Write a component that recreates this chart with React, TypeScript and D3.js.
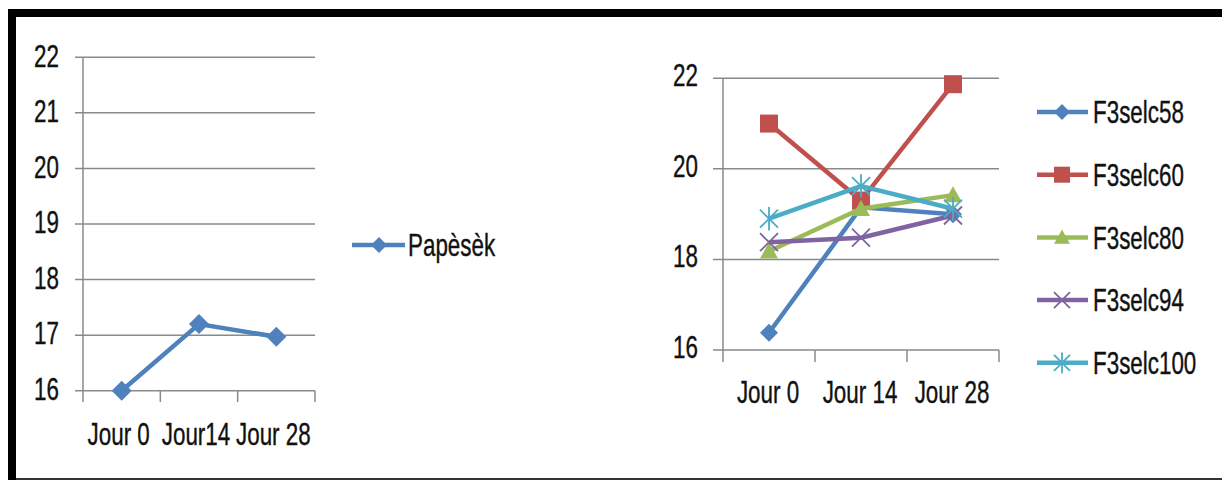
import React from "react";
import * as d3 from "d3";

const categoriesLeft = ["Jour 0", "Jour14", "Jour 28"];
const categoriesRight = ["Jour 0", "Jour 14", "Jour 28"];
const papesekValues = [16.0, 17.2, 16.97];
const leftTicks = [16, 17, 18, 19, 20, 21, 22];
const rightTicks = [16, 18, 20, 22];

const seriesNames = ["F3selc58", "F3selc60", "F3selc80", "F3selc94", "F3selc100"];
const seriesColors = ["#4F81BD", "#C0504D", "#9BBB59", "#8064A2", "#4BACC6"];
const seriesMarkers = ["diamond", "square", "triangle", "x", "star"];
const f3selc58 = [16.38, 19.15, 19.0];
const f3selc60 = [21.0, 19.3, 21.87];
const f3selc80 = [18.18, 19.12, 19.42];
const f3selc94 = [18.38, 18.48, 18.97];
const f3selc100 = [18.9, 19.62, 19.12];
const seriesValues = [f3selc58, f3selc60, f3selc80, f3selc94, f3selc100];

const FONT = "'Liberation Sans', Arial, sans-serif";
const FS = 32;
const SX = 0.7;

function T({ x, y, anchor = "start", dy = "0.35em", children }: { x: number; y: number; anchor?: string; dy?: string; children: React.ReactNode }) {
  return (
    <g transform={`translate(${x},${y}) scale(${SX},1)`}>
      <text x={0} y={0} dy={dy} textAnchor={anchor as any} fontFamily={FONT} fontSize={FS} fill="#111" stroke="#111" strokeWidth={0.4}>
        {children}
      </text>
    </g>
  );
}

function Marker({ type, x, y, color, s }: { type: string; x: number; y: number; color: string; s: number }) {
  if (type === "diamond") {
    return <path d={`M${x},${y - s}L${x + s},${y}L${x},${y + s}L${x - s},${y}Z`} fill={color} />;
  }
  if (type === "square") {
    return <rect x={x - s} y={y - s} width={2 * s} height={2 * s} fill={color} />;
  }
  if (type === "triangle") {
    return <path d={`M${x},${y - s}L${x + s},${y + s * 0.8}L${x - s},${y + s * 0.8}Z`} fill={color} />;
  }
  if (type === "x") {
    return (
      <path d={`M${x - s},${y - s}L${x + s},${y + s}M${x - s},${y + s}L${x + s},${y - s}`} stroke={color} strokeWidth={1.8} fill="none" />
    );
  }
  return (
    <path
      d={`M${x - s},${y - s}L${x + s},${y + s}M${x - s},${y + s}L${x + s},${y - s}M${x},${y - s * 1.3}L${x},${y + s * 1.3}`}
      stroke={color}
      strokeWidth={1.8}
      fill="none"
    />
  );
}

export default function App() {
  const xL = d3.scaleBand<string>().domain(categoriesLeft).range([83, 315]);
  const yL = d3.scaleLinear().domain([16, 22]).range([390.7, 57.3]);
  const cxL = (i: number) => (xL(categoriesLeft[i]) as number) + xL.bandwidth() / 2;
  const lineL = d3
    .line<number>()
    .x((_, i) => cxL(i))
    .y((d) => yL(d));

  const xR = d3.scaleBand<string>().domain(categoriesRight).range([723, 999]);
  const yR = d3.scaleLinear().domain([16, 22]).range([350, 78.3]);
  const cxR = (i: number) => (xR(categoriesRight[i]) as number) + xR.bandwidth() / 2;
  const lineR = d3
    .line<number>()
    .x((_, i) => cxR(i))
    .y((d) => yR(d));

  const grid = "#8a8a8a";

  return (
    <svg width={1222} height={480} style={{ position: "absolute", left: 0, top: 0, background: "#fff" }}>
      <rect x={0} y={0} width={1222} height={480} fill="#fff" />
      <rect x={8} y={9} width={1214} height={8} fill="#000" />
      <rect x={8} y={9} width={8} height={471} fill="#000" />
      <rect x={16} y={478} width={1206} height={2} fill="#333" />

      {/* LEFT CHART */}
      <g>
        {leftTicks.map((t) => (
          <g key={t}>
            <line x1={75} x2={315} y1={yL(t)} y2={yL(t)} stroke={grid} strokeWidth={1.5} />
            <T x={59} y={yL(t)} anchor="end" dy="0.29em">
              {t}
            </T>
          </g>
        ))}
        <line x1={83} x2={83} y1={57.3} y2={402} stroke={grid} strokeWidth={1.5} />
        {xL.domain().map((c) => (
          <line key={c} x1={(xL(c) as number) + xL.bandwidth()} x2={(xL(c) as number) + xL.bandwidth()} y1={yL(16)} y2={402} stroke={grid} strokeWidth={1.5} />
        ))}
        {categoriesLeft.map((c, i) => (
          <T key={c} x={cxL(i) - 3} y={445} anchor="middle" dy="0">
            {c}
          </T>
        ))}
        <path d={lineL(papesekValues) || ""} fill="none" stroke="#4F81BD" strokeWidth={4.5} />
        {papesekValues.map((v, i) => (
          <Marker key={i} type="diamond" x={cxL(i)} y={yL(v)} color="#4F81BD" s={10} />
        ))}
        <line x1={352} x2={405} y1={245} y2={245} stroke="#4F81BD" strokeWidth={4.5} />
        <Marker type="diamond" x={379} y={245} color="#4F81BD" s={8} />
        <T x={408} y={245}>Papèsèk</T>
      </g>

      {/* RIGHT CHART */}
      <g>
        {rightTicks.map((t) => (
          <g key={t}>
            <line x1={713} x2={999} y1={yR(t)} y2={yR(t)} stroke={grid} strokeWidth={1.5} />
            <T x={698} y={yR(t)} anchor="end" dy="0.25em">
              {t}
            </T>
          </g>
        ))}
        <line x1={723} x2={723} y1={78.3} y2={362} stroke={grid} strokeWidth={1.5} />
        {xR.domain().map((c) => (
          <line key={c} x1={(xR(c) as number) + xR.bandwidth()} x2={(xR(c) as number) + xR.bandwidth()} y1={yR(16)} y2={362} stroke={grid} strokeWidth={1.5} />
        ))}
        {categoriesRight.map((c, i) => (
          <T key={c} x={cxR(i) - 1} y={403} anchor="middle" dy="0">
            {c}
          </T>
        ))}
        {seriesValues.map((vals, si) => (
          <g key={si}>
            <path d={lineR(vals) || ""} fill="none" stroke={seriesColors[si]} strokeWidth={4.5} />
            {vals.map((v, i) => (
              <Marker key={i} type={seriesMarkers[si]} x={cxR(i)} y={yR(v)} color={seriesColors[si]} s={9} />
            ))}
          </g>
        ))}
        {seriesNames.map((n, i) => {
          const ly = 112 + i * 62.7;
          return (
            <g key={n}>
              <line x1={1037} x2={1088} y1={ly} y2={ly} stroke={seriesColors[i]} strokeWidth={4.5} />
              <Marker type={seriesMarkers[i]} x={1062} y={ly} color={seriesColors[i]} s={8} />
              <T x={1093} y={ly}>{n}</T>
            </g>
          );
        })}
      </g>
    </svg>
  );
}
